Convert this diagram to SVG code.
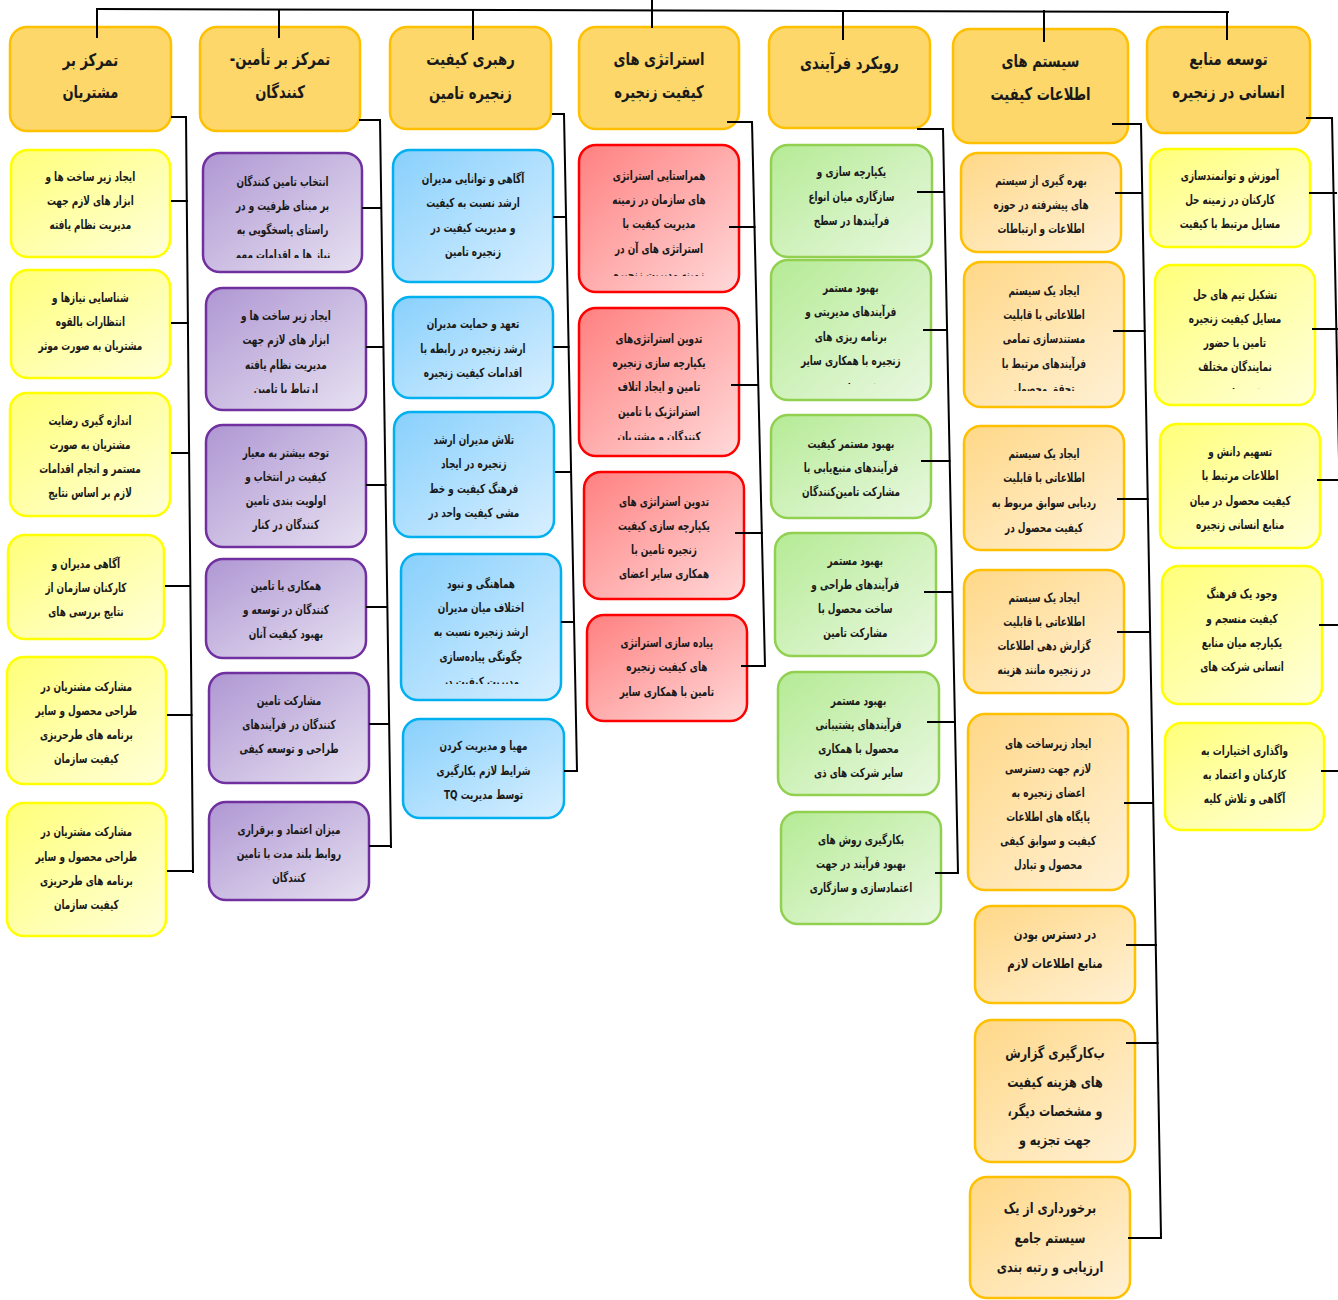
<svg xmlns="http://www.w3.org/2000/svg" width="1338" height="1300" viewBox="0 0 1338 1300">
<style>
.t{font-family:"DejaVu Sans",sans-serif;font-weight:bold;font-size:12.5px;text-anchor:middle;direction:rtl;fill:#1a1a1a;dominant-baseline:central;transform-box:fill-box;transform-origin:center;transform:scaleX(0.71)}
.h{font-size:17.5px;transform:scaleX(0.75)}
.m{font-size:13.5px;transform:scaleX(0.76)}
.l{font-size:14.5px;transform:scaleX(0.77)}
.c{stroke:#000;stroke-width:2;fill:none;stroke-linecap:square}
.hd{fill:#FDD769;stroke:#FFC000;stroke-width:2.5}
.by{fill:url(#gy);stroke:#FFFF00;stroke-width:2.5}
.bp{fill:url(#gp);stroke:#7030A0;stroke-width:2.5}
.bb{fill:url(#gb);stroke:#00B0F0;stroke-width:2.5}
.br{fill:url(#gr);stroke:#FF0000;stroke-width:2.5}
.bg{fill:url(#gg);stroke:#92D050;stroke-width:2.5}
.bo{fill:url(#go);stroke:#FFC000;stroke-width:2.5}
</style>
<defs>
<linearGradient id="gy" x1="0" y1="0" x2="1" y2="1"><stop offset="0" stop-color="#FFFF7A"/><stop offset="1" stop-color="#FFFFDA"/></linearGradient>
<linearGradient id="gp" x1="0" y1="0" x2="1" y2="1"><stop offset="0" stop-color="#AF97D3"/><stop offset="1" stop-color="#E7E1F1"/></linearGradient>
<linearGradient id="gb" x1="0" y1="0" x2="1" y2="1"><stop offset="0" stop-color="#88D0FC"/><stop offset="1" stop-color="#D8EFFF"/></linearGradient>
<linearGradient id="gr" x1="0" y1="0" x2="1" y2="1"><stop offset="0" stop-color="#FF8080"/><stop offset="1" stop-color="#FFD9D9"/></linearGradient>
<linearGradient id="gg" x1="0" y1="0" x2="1" y2="1"><stop offset="0" stop-color="#B5EB95"/><stop offset="1" stop-color="#EAF8E2"/></linearGradient>
<linearGradient id="go" x1="0" y1="0" x2="1" y2="1"><stop offset="0" stop-color="#FFD888"/><stop offset="1" stop-color="#FFF1D6"/></linearGradient>
<clipPath id="k6"><rect x="900" y="29" width="280" height="102"/></clipPath>
<clipPath id="k21"><rect x="150" y="153" width="265" height="105"/></clipPath>
<clipPath id="k22"><rect x="150" y="288" width="270" height="105"/></clipPath>
<clipPath id="k34"><rect x="350" y="554" width="260" height="130"/></clipPath>
<clipPath id="k41"><rect x="530" y="145" width="260" height="131"/></clipPath>
<clipPath id="k42"><rect x="530" y="308" width="260" height="132"/></clipPath>
<clipPath id="k51"><rect x="720" y="145" width="260" height="98"/></clipPath>
<clipPath id="k52"><rect x="720" y="260" width="260" height="124"/></clipPath>
<clipPath id="k62"><rect x="910" y="262" width="270" height="129"/></clipPath>
<clipPath id="k72"><rect x="1100" y="265" width="270" height="124"/></clipPath>
</defs>

<g id="h1"><rect class="hd" x="10" y="27" width="161" height="104" rx="17"/><text class="t h"><tspan x="90.5" y="60">تمرکز بر</tspan><tspan x="90.5" y="92">مشتریان</tspan></text></g>
<g id="h2"><rect class="hd" x="200" y="27" width="160" height="104" rx="17"/><text class="t h"><tspan x="280" y="59">تمرکز بر  تأمین-</tspan><tspan x="280" y="92">کنندگان</tspan></text></g>
<g id="h3"><rect class="hd" x="390" y="27" width="161" height="102" rx="17"/><text class="t h"><tspan x="470.5" y="59">رهبری کیفیت</tspan><tspan x="470.5" y="93">زنجیره تامین</tspan></text></g>
<g id="h4"><rect class="hd" x="579" y="27" width="160" height="102" rx="17"/><text class="t h"><tspan x="659" y="59">استراتژی های</tspan><tspan x="659" y="92">کیفیت زنجیره</tspan></text></g>
<g id="h5"><rect class="hd" x="769" y="27" width="161" height="101" rx="17"/><text class="t h"><tspan x="849.5" y="63">رویکرد فرآیندی</tspan></text></g>
<g id="h6"><rect class="hd" x="953" y="29" width="175" height="114" rx="17"/><g clip-path="url(#k6)"><text class="t h"><tspan x="1040.5" y="61">سیستم های</tspan><tspan x="1040.5" y="94">اطلاعات کیفیت</tspan><tspan x="1040.5" y="139">زنجیره تامین</tspan></text></g></g>
<g id="h7"><rect class="hd" x="1147" y="27" width="163" height="106" rx="17"/><text class="t h"><tspan x="1228.5" y="59">توسعه منابع</tspan><tspan x="1228.5" y="92">انسانی در زنجیره</tspan></text></g>

<g id="c1-1"><rect class="by" x="11" y="150" width="159" height="107" rx="17"/><text class="t"><tspan x="90.5" y="176">ایجاد زیر ساخت ها و</tspan><tspan x="90.5" y="200">ابزار های لازم  جهت</tspan><tspan x="90.5" y="224">مدیریت نظام یافته</tspan></text></g>
<g id="c1-2"><rect class="by" x="11" y="270" width="159" height="108" rx="17"/><text class="t"><tspan x="90.5" y="297">شناسایی نیازها و</tspan><tspan x="90.5" y="321">انتظارات بالقوه</tspan><tspan x="90.5" y="345">مشتریان به صورت موثر</tspan></text></g>
<g id="c1-3"><rect class="by" x="10" y="393" width="160" height="123" rx="17"/><text class="t"><tspan x="90" y="420">اندازه گیری رضایت</tspan><tspan x="90" y="444">مشتریان به صورت</tspan><tspan x="90" y="468">مستمر و انجام اقدامات</tspan><tspan x="90" y="492">لازم بر اساس نتایج</tspan></text></g>
<g id="c1-4"><rect class="by" x="8" y="535" width="156" height="104" rx="17"/><text class="t"><tspan x="86" y="563">آگاهی مدیران و</tspan><tspan x="86" y="587">کارکنان سازمان از</tspan><tspan x="86" y="611">نتایج بررسی های</tspan></text></g>
<g id="c1-5"><rect class="by" x="7" y="657" width="159" height="127" rx="17"/><text class="t"><tspan x="86.5" y="686">مشارکت مشتریان در</tspan><tspan x="86.5" y="710">طراحی محصول و سایر</tspan><tspan x="86.5" y="734">برنامه های طرحریزی</tspan><tspan x="86.5" y="758">کیفیت سازمان</tspan></text></g>
<g id="c1-6"><rect class="by" x="7" y="803" width="159" height="133" rx="17"/><text class="t"><tspan x="86.5" y="831">مشارکت مشتریان در</tspan><tspan x="86.5" y="856">طراحی محصول و سایر</tspan><tspan x="86.5" y="880">برنامه های طرحریزی</tspan><tspan x="86.5" y="904">کیفیت سازمان</tspan></text></g>

<g id="c2-1"><rect class="bp" x="203" y="153" width="159" height="119" rx="17"/><g clip-path="url(#k21)"><text class="t"><tspan x="282.5" y="181">انتخاب تامین کنندگان</tspan><tspan x="282.5" y="205">بر مبنای ظرفیت و در</tspan><tspan x="282.5" y="229">راستای پاسخگویی به</tspan><tspan x="282.5" y="254">نیاز ها و اقدامات مهم</tspan></text></g></g>
<g id="c2-2"><rect class="bp" x="206" y="288" width="160" height="122" rx="17"/><g clip-path="url(#k22)"><text class="t"><tspan x="286" y="315">ایجاد زیر ساخت ها و</tspan><tspan x="286" y="339">ابزار های لازم  جهت</tspan><tspan x="286" y="364">مدیریت  نظام یافته</tspan><tspan x="286" y="388">ارتباط با تامین</tspan></text></g></g>
<g id="c2-3"><rect class="bp" x="206" y="425" width="160" height="122" rx="17"/><text class="t"><tspan x="286" y="452">توجه بیشتر به معیار</tspan><tspan x="286" y="476">کیفیت در انتخاب و</tspan><tspan x="286" y="500">اولویت بندی تامین</tspan><tspan x="286" y="524">کنندگان در کنار</tspan></text></g>
<g id="c2-4"><rect class="bp" x="206" y="559" width="160" height="99" rx="17"/><text class="t"><tspan x="286" y="585">همکاری با تامین</tspan><tspan x="286" y="609">کنندگان در توسعه و</tspan><tspan x="286" y="633">بهبود کیفیت آنان</tspan></text></g>
<g id="c2-5"><rect class="bp" x="209" y="673" width="160" height="110" rx="17"/><text class="t"><tspan x="289" y="700">مشارکت تامین</tspan><tspan x="289" y="724">کنندگان در فرآیندهای</tspan><tspan x="289" y="748">طراحی و توسعه کیفی</tspan></text></g>
<g id="c2-6"><rect class="bp" x="209" y="802" width="160" height="98" rx="17"/><text class="t"><tspan x="289" y="829">میزان اعتماد و برقراری</tspan><tspan x="289" y="853">روابط بلند مدت با تامین</tspan><tspan x="289" y="877">کنندگان</tspan></text></g>

<g id="c3-1"><rect class="bb" x="393" y="150" width="160" height="132" rx="17"/><text class="t"><tspan x="473" y="178">آگاهی و توانایی مدیران</tspan><tspan x="473" y="202">ارشد نسبت به کیفیت</tspan><tspan x="473" y="227">و مدیریت کیفیت در</tspan><tspan x="473" y="251">زنجیره تامین</tspan></text></g>
<g id="c3-2"><rect class="bb" x="393" y="297" width="160" height="101" rx="17"/><text class="t"><tspan x="473" y="323">تعهد و حمایت مدیران</tspan><tspan x="473" y="348">ارشد زنجیره در رابطه با</tspan><tspan x="473" y="372">اقدامات کیفیت زنجیره</tspan></text></g>
<g id="c3-3"><rect class="bb" x="394" y="412" width="160" height="125" rx="17"/><text class="t"><tspan x="474" y="439">تلاش مدیران ارشد</tspan><tspan x="474" y="463">زنجیره در ایجاد</tspan><tspan x="474" y="488">فرهنگ کیفیت و خط</tspan><tspan x="474" y="512">مشی کیفیت واحد در</tspan></text></g>
<g id="c3-4"><rect class="bb" x="401" y="554" width="160" height="146" rx="17"/><g clip-path="url(#k34)"><text class="t"><tspan x="481" y="583">هماهنگی و نبود</tspan><tspan x="481" y="607">اختلاف میان مدیران</tspan><tspan x="481" y="631">ارشد زنجیره نسبت به</tspan><tspan x="481" y="656">چگونگی پیاده‌سازی</tspan><tspan x="481" y="681">مدیریت کیفیت در</tspan></text></g></g>
<g id="c3-5"><rect class="bb" x="403" y="719" width="161" height="99" rx="17"/><text class="t"><tspan x="483.5" y="745">مهیا و مدیریت کردن</tspan><tspan x="483.5" y="770">شرایط لازم بکارگیری</tspan><tspan x="483.5" y="794">توسط مدیریت TQ</tspan></text></g>

<g id="c4-1"><rect class="br" x="579" y="145" width="160" height="147" rx="17"/><g clip-path="url(#k41)"><text class="t"><tspan x="659" y="175">همراستایی استراتژی</tspan><tspan x="659" y="199">های سازمان در زمینه</tspan><tspan x="659" y="223">مدیریت کیفیت با</tspan><tspan x="659" y="248">استراتژی های آن در</tspan><tspan x="659" y="274">زمینه مدیریت زنجیره</tspan></text></g></g>
<g id="c4-2"><rect class="br" x="579" y="308" width="160" height="148" rx="17"/><g clip-path="url(#k42)"><text class="t"><tspan x="659" y="338">تدوین استراتژی‌های</tspan><tspan x="659" y="362">یکپارچه سازی زنجیره</tspan><tspan x="659" y="386">تامین و ایجاد اتلاف</tspan><tspan x="659" y="411">استراتژیک با تامین</tspan><tspan x="659" y="436">کنندگان و مشتریان</tspan></text></g></g>
<g id="c4-3"><rect class="br" x="584" y="472" width="160" height="127" rx="17"/><text class="t"><tspan x="664" y="501">تدوین استراتژی های</tspan><tspan x="664" y="525">یکپارچه سازی کیفیت</tspan><tspan x="664" y="549">زنجیره تامین با</tspan><tspan x="664" y="573">همکاری سایر اعضای</tspan></text></g>
<g id="c4-4"><rect class="br" x="587" y="615" width="160" height="106" rx="17"/><text class="t"><tspan x="667" y="642">پیاده سازی استراتژی</tspan><tspan x="667" y="666">های کیفیت زنجیره</tspan><tspan x="667" y="691">تامین با همکاری سایر</tspan></text></g>

<g id="c5-1"><rect class="bg" x="771" y="145" width="161" height="112" rx="17"/><g clip-path="url(#k51)"><text class="t"><tspan x="851.5" y="171">یکپارچه سازی و</tspan><tspan x="851.5" y="196">سازگاری میان انواع</tspan><tspan x="851.5" y="220">فرآیندها در سطح</tspan><tspan x="851.5" y="248">زنجیره تامین</tspan></text></g></g>
<g id="c5-2"><rect class="bg" x="771" y="260" width="160" height="140" rx="17"/><g clip-path="url(#k52)"><text class="t"><tspan x="851" y="287">بهبود مستمر</tspan><tspan x="851" y="311">فرآیندهای مدیریتی و</tspan><tspan x="851" y="336">برنامه ریزی های</tspan><tspan x="851" y="360">زنجیره با همکاری سایر</tspan><tspan x="851" y="388">شرکت های ذینفع</tspan></text></g></g>
<g id="c5-3"><rect class="bg" x="771" y="415" width="160" height="103" rx="17"/><text class="t"><tspan x="851" y="443">بهبود مستمر کیفیت</tspan><tspan x="851" y="467">فرآیندهای منبع‌یابی با</tspan><tspan x="851" y="491">مشارکت تامین‌کنندگان</tspan></text></g>
<g id="c5-4"><rect class="bg" x="775" y="533" width="161" height="123" rx="17"/><text class="t"><tspan x="855.5" y="560">بهبود مستمر</tspan><tspan x="855.5" y="584">فرآیندهای طراحی و</tspan><tspan x="855.5" y="608">ساخت محصول با</tspan><tspan x="855.5" y="632">مشارکت تامین</tspan></text></g>
<g id="c5-5"><rect class="bg" x="778" y="672" width="161" height="123" rx="17"/><text class="t"><tspan x="858.5" y="700">بهبود مستمر</tspan><tspan x="858.5" y="724">فرآیندهای پشتیبانی</tspan><tspan x="858.5" y="748">محصول با همکاری</tspan><tspan x="858.5" y="772">سایر شرکت های ذی</tspan></text></g>
<g id="c5-6"><rect class="bg" x="781" y="812" width="160" height="112" rx="17"/><text class="t"><tspan x="861" y="839">بکارگیری روش های</tspan><tspan x="861" y="863">بهبود فرآیند در جهت</tspan><tspan x="861" y="887">اعتمادسازی و سازگاری</tspan></text></g>

<g id="c6-1"><rect class="bo" x="961" y="153" width="160" height="99" rx="17"/><text class="t"><tspan x="1041" y="180">بهره گیری از سیستم</tspan><tspan x="1041" y="204">های پیشرفته در حوزه</tspan><tspan x="1041" y="228">اطلاعات و ارتباطات</tspan></text></g>
<g id="c6-2"><rect class="bo" x="964" y="262" width="160" height="145" rx="17"/><g clip-path="url(#k62)"><text class="t"><tspan x="1044" y="290">ایجاد یک سیستم</tspan><tspan x="1044" y="314">اطلاعاتی با قابلیت</tspan><tspan x="1044" y="338">مستندسازی تمامی</tspan><tspan x="1044" y="363">فرآیندهای مرتبط با</tspan><tspan x="1044" y="388">تحقق محصول</tspan></text></g></g>
<g id="c6-3"><rect class="bo" x="964" y="426" width="160" height="124" rx="17"/><text class="t"><tspan x="1044" y="453">ایجاد یک سیستم</tspan><tspan x="1044" y="477">اطلاعاتی با قابلیت</tspan><tspan x="1044" y="502">ردیابی سوابق مربوط به</tspan><tspan x="1044" y="527">کیفیت محصول در</tspan></text></g>
<g id="c6-4"><rect class="bo" x="964" y="570" width="160" height="123" rx="17"/><text class="t"><tspan x="1044" y="597">ایجاد یک سیستم</tspan><tspan x="1044" y="621">اطلاعاتی با قابلیت</tspan><tspan x="1044" y="645">گزارش دهی اطلاعات</tspan><tspan x="1044" y="669">در زنجیره مانند هزینه</tspan></text></g>
<g id="c6-5"><rect class="bo" x="968" y="714" width="160" height="176" rx="17"/><text class="t"><tspan x="1048" y="743">ایجاد زیرساخت های</tspan><tspan x="1048" y="768">لازم جهت دسترسی</tspan><tspan x="1048" y="792">اعضای زنجیره به</tspan><tspan x="1048" y="816">پایگاه های اطلاعات</tspan><tspan x="1048" y="840">کیفیت و سوابق کیفی</tspan><tspan x="1048" y="864">محصول و تبادل</tspan></text></g>
<g id="c6-6"><rect class="bo" x="975" y="906" width="160" height="97" rx="17"/><text class="t m"><tspan x="1055" y="935">در دسترس بودن</tspan><tspan x="1055" y="963">منابع اطلاعات لازم</tspan></text></g>
<g id="c6-7"><rect class="bo" x="975" y="1020" width="160" height="142" rx="17"/><text class="t l"><tspan x="1055" y="1052">ب‌کارگیری گزارش</tspan><tspan x="1055" y="1081">های هزینه کیفیت</tspan><tspan x="1055" y="1110">و مشخصات دیگر،</tspan><tspan x="1055" y="1139">جهت تجزیه و</tspan></text></g>
<g id="c6-8"><rect class="bo" x="970" y="1177" width="160" height="121" rx="17"/><text class="t l"><tspan x="1050" y="1207">برخورداری از یک</tspan><tspan x="1050" y="1237">سیستم جامع</tspan><tspan x="1050" y="1266">ارزیابی و رتبه بندی</tspan></text></g>

<g id="c7-1"><rect class="by" x="1150" y="149" width="160" height="98" rx="17"/><text class="t"><tspan x="1230" y="175">آموزش و توانمندسازی</tspan><tspan x="1230" y="199">کارکنان در زمینه حل</tspan><tspan x="1230" y="223">مسایل مرتبط با کیفیت</tspan></text></g>
<g id="c7-2"><rect class="by" x="1155" y="265" width="160" height="140" rx="17"/><g clip-path="url(#k72)"><text class="t"><tspan x="1235" y="294">تشکیل تیم های حل</tspan><tspan x="1235" y="318">مسایل کیفیت زنجیره</tspan><tspan x="1235" y="342">تامین با حضور</tspan><tspan x="1235" y="366">نمایندگان مختلف</tspan><tspan x="1235" y="393">شرکت های ذینفع</tspan></text></g></g>
<g id="c7-3"><rect class="by" x="1160" y="424" width="160" height="124" rx="17"/><text class="t"><tspan x="1240" y="451">تسهیم دانش و</tspan><tspan x="1240" y="475">اطلاعات مرتبط با</tspan><tspan x="1240" y="500">کیفیت محصول در میان</tspan><tspan x="1240" y="524">منابع انسانی زنجیره</tspan></text></g>
<g id="c7-4"><rect class="by" x="1162" y="566" width="160" height="138" rx="17"/><text class="t"><tspan x="1242" y="593">وجود یک فرهنگ</tspan><tspan x="1242" y="618">کیفیت منسجم و</tspan><tspan x="1242" y="642">یکپارچه میان منابع</tspan><tspan x="1242" y="666">انسانی شرکت های</tspan></text></g>
<g id="c7-5"><rect class="by" x="1165" y="723" width="159" height="107" rx="17"/><text class="t"><tspan x="1244.5" y="750">واگذاری اختیارات به</tspan><tspan x="1244.5" y="774">کارکنان و اعتماد به</tspan><tspan x="1244.5" y="798">آگاهی و تلاش کلیه</tspan></text></g>

<g id="connectors" class="c">
<path d="M97 9 L1228 12"/>
<path d="M652 0 V27"/>
<path d="M97 9 V37"/><path d="M279 10 V37"/><path d="M473 10 V39"/><path d="M843 11 V39"/><path d="M1044 11 V41"/><path d="M1227 12 V39"/>
<path d="M172 117 H186 L193 872"/>
<path d="M172 201 H187"/><path d="M172 323 H188"/><path d="M172 453 H189"/><path d="M166 586 H190"/><path d="M168 715 H191.5"/><path d="M168 871 H193"/>
<path d="M360 120 H380 L391 847"/>
<path d="M363 208 H381"/><path d="M367 347 H383"/><path d="M367 485 H385.5"/><path d="M367 607 H387"/><path d="M370 724 H389"/><path d="M370 846 H391"/>
<path d="M553 114 H564 L577 771"/>
<path d="M554 217 H566"/><path d="M554 347 H568.5"/><path d="M556 472 H571"/><path d="M562 622 H574"/><path d="M565 771 H577"/>
<path d="M728 122 H752 L765 666"/>
<path d="M730 227 H754.5"/><path d="M732 385 H758"/><path d="M736 533 H762"/><path d="M742 666 H765"/>
<path d="M918 129 H943 L958 873"/>
<path d="M918 192 H944"/><path d="M924 330 H947"/><path d="M922 461 H949.5"/><path d="M925 592 H952"/><path d="M928 722 H955"/><path d="M936 873 H958"/>
<path d="M1113 124 H1141 L1161 1237"/>
<path d="M1116 193 H1142"/><path d="M1114 331 H1144.5"/><path d="M1118 499 H1147.5"/><path d="M1118 632 H1150"/><path d="M1125 803 H1153"/><path d="M1127 945 H1156"/><path d="M1127 1043 H1157.5"/><path d="M1129 1238 H1161"/>
<path d="M1307 118 H1332 L1346 800"/>
<path d="M1310 193 H1336"/><path d="M1313 329 H1338"/><path d="M1318 480 H1340"/><path d="M1320 625 H1340"/><path d="M1322 771 H1340"/>
</g>
</svg>
